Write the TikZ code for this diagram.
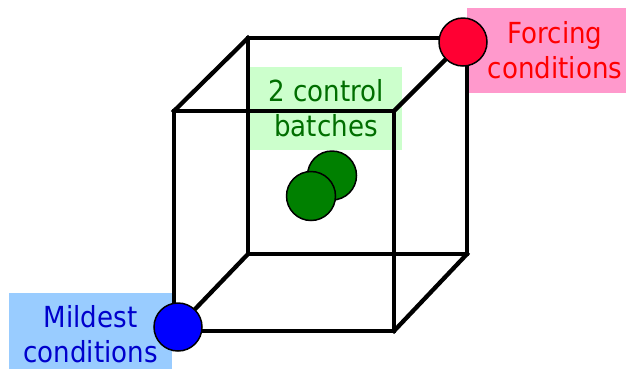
\documentclass[tikz,border=0pt]{standalone}
\usepackage{fontspec}
\setmainfont{DejaVu Sans}[FakeStretch=0.9]
\definecolor{pinkbox}{HTML}{FF99CC}
\definecolor{redtxt}{HTML}{FF0000}
\definecolor{reddot}{HTML}{FF0033}
\definecolor{bluebox}{HTML}{99CCFF}
\definecolor{bluetxt}{HTML}{0000CC}
\definecolor{bluedot}{HTML}{0000FF}
\definecolor{greenbox}{HTML}{CCFFCC}
\definecolor{greentxt}{HTML}{006E00}
\definecolor{greendot}{HTML}{008000}
\tikzset{
  labelbox/.style={inner sep=0pt, align=center, font=\fontsize{29}{35}\selectfont},
  edge/.style={line width=4.3pt, line join=miter, line cap=rect},
  dot/.style={circle, draw=black, line width=1.5pt, minimum size=48pt, inner sep=0pt},
}
\begin{document}
\begin{tikzpicture}[x=1pt, y=-1pt]
\useasboundingbox (0,0) rectangle (626,368);
\clip (0,0) rectangle (626,368);

% label boxes
\node[labelbox, fill=greenbox, text=greentxt, minimum width=152pt, minimum height=83pt]
  (ctrl) at (326,108.5) {2 control\\batches};
\node[labelbox, fill=pinkbox, text=redtxt, minimum width=176pt, minimum height=85pt]
  (force) at (555,50.5) {Forcing\\conditions};
\node[labelbox, fill=bluebox, text=bluetxt, minimum width=163pt, minimum height=83pt]
  (mild) at (90.5,334.5) {Mildest\\conditions};

% cube corners
\coordinate (ftl) at (174,111);
\coordinate (ftr) at (394,111);
\coordinate (fbr) at (394,331);
\coordinate (fbl) at (174,331);
\coordinate (btl) at (248,38);
\coordinate (btr) at (467,38);
\coordinate (bbr) at (467,254);
\coordinate (bbl) at (248,254);

% cube edges
\draw[edge] (btl) -- (btr) -- (bbr) -- (bbl) -- cycle;
\draw[edge] (ftl) -- (ftr) -- (fbr) -- (fbl) -- cycle;
\draw[edge] (ftl) -- (btl);
\draw[edge] (ftr) -- (btr);
\draw[edge] (fbr) -- (bbr);
\draw[edge] (fbl) -- (bbl);

% corner markers and control batches
\node[dot, fill=reddot] (forcedot) at (463,42) {};
\node[dot, fill=bluedot] (milddot) at (178,327) {};
\node[dot, fill=greendot, minimum size=49pt] (ctrlA) at (332,175.5) {};
\node[dot, fill=greendot, minimum size=49pt] (ctrlB) at (311,196) {};
\end{tikzpicture}
\end{document}
